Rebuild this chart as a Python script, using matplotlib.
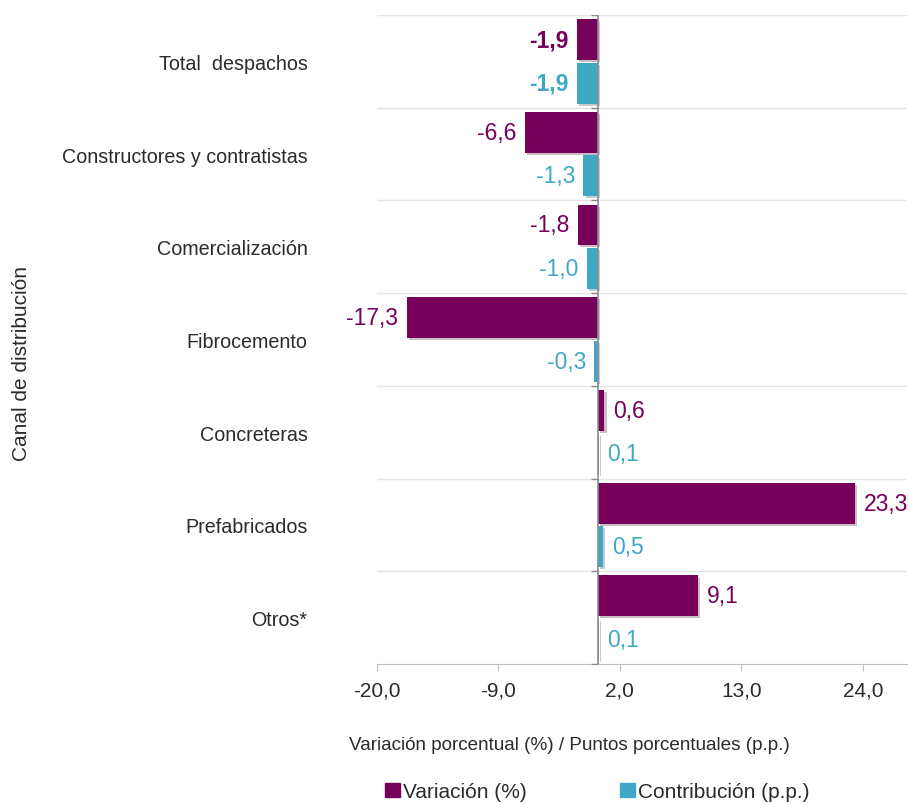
import matplotlib
matplotlib.use("Agg")
import matplotlib.pyplot as plt
import matplotlib.patheffects as pe
from matplotlib.patches import Patch
from matplotlib.ticker import FuncFormatter
import numpy as np

plt.rcParams['font.family'] = ['Liberation Sans', 'DejaVu Sans']

# Data
categorias = ["Total  despachos", "Constructores y contratistas", "Comercialización",
              "Fibrocemento", "Concreteras", "Prefabricados", "Otros*"]
variacion = [-1.9, -6.6, -1.8, -17.3, 0.6, 23.3, 9.1]
contribucion = [-1.9, -1.3, -1.0, -0.3, 0.1, 0.5, 0.1]
xticks = [-20, -9, 2, 13, 24]

morado = "#76005A"
cian = "#3FA8C6"
gris_txt = "#2B2B2B"

fig = plt.figure(figsize=(9.09, 8.04), dpi=100)
ax = fig.add_axes([0.4147, 0.1729, 0.5831, 0.8072])

y = np.arange(len(categorias))
h = 0.44
off = 0.235
sombra = [pe.SimplePatchShadow(offset=(1.5, -1.5), alpha=0.25), pe.Normal()]

b1 = ax.barh(y - off, variacion, height=h, color=morado, zorder=3)
b2 = ax.barh(y + off, contribucion, height=h, color=cian, zorder=3)
for b in list(b1) + list(b2):
    b.set_path_effects(sombra)

# etiquetas de valores
for i, (v, c) in enumerate(zip(variacion, contribucion)):
    peso = "bold" if i == 0 else "normal"
    for val, yy, col in [(v, i - off, morado), (c, i + off, cian)]:
        ha = "right" if val < 0 else "left"
        dx = -6 if val < 0 else 6
        ax.annotate(f"{val:.1f}".replace(".", ","), (val, yy), xytext=(dx, 0),
                    textcoords="offset points", ha=ha, va="center",
                    color=col, fontsize=16.5, fontweight=peso)

ax.set_xlim(-20, 28)
ax.set_ylim(len(categorias) - 0.5, -0.5)

# grid horizontal entre categorías
for k in range(len(categorias)):
    ax.axhline(k - 0.5, color="#E4E4E4", lw=1, zorder=1)

# eje vertical en cero con marcas
ax.axvline(0, color="#8C8C8C", lw=1.2, zorder=4)
ax.plot([0] * (len(categorias) + 1), np.arange(len(categorias) + 1) - 0.5,
        marker=0, markersize=5, linestyle="none", color="#8C8C8C", zorder=4)

ax.set_yticks(y)
ax.set_yticklabels(categorias, fontsize=14.2, color=gris_txt)
ax.tick_params(axis="y", length=0, pad=50)

ax.set_xticks(xticks)
ax.xaxis.set_major_formatter(FuncFormatter(lambda v, p: f"{v:.1f}".replace(".", ",")))
ax.tick_params(axis="x", length=5, color="#BFBFBF", labelsize=15, labelcolor=gris_txt, pad=7)

for s in ["top", "right", "left"]:
    ax.spines[s].set_visible(False)
ax.spines["bottom"].set_color("#BFBFBF")

fig.text(0.024, 0.548, "Canal de distribución", rotation=90, ha="center", va="center",
         fontsize=15, color=gris_txt)
fig.text(0.626, 0.073, "Variación porcentual (%) / Puntos porcentuales (p.p.)",
         ha="center", va="center", fontsize=13.6, color=gris_txt)

handles = [Patch(color=morado, label="Variación (%)"),
           Patch(color=cian, label="Contribución (p.p.)")]
fig.legend(handles=handles, loc="center", bbox_to_anchor=(0.657, 0.014), ncol=2,
           frameon=False, fontsize=15, handlelength=0.7, handleheight=0.7,
           handletextpad=0.15, columnspacing=4.5, labelcolor=gris_txt)

fig.savefig("out.png", dpi=100)
